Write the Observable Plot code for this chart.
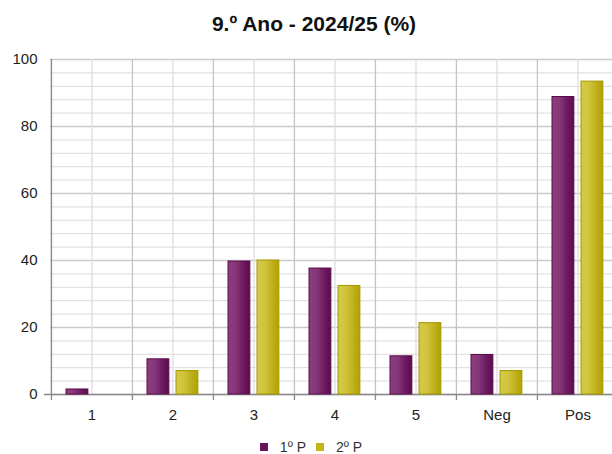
<!DOCTYPE html>
<html><head><meta charset="utf-8">
<script src="https://cdn.jsdelivr.net/npm/d3@7"></script>
<script src="https://cdn.jsdelivr.net/npm/@observablehq/plot@0.6"></script>
<style>
body{margin:0;background:#fff;font-family:"Liberation Sans",Arial,sans-serif;}
#title{height:46px;line-height:48px;text-align:center;font-weight:bold;font-size:21px;color:#111;padding-left:16px;}
#chart svg{display:block;overflow:hidden;}
#legend{display:flex;justify-content:center;align-items:center;height:34px;font-size:14px;color:#333;padding-left:10px;}
#legend .sw{width:8px;height:8px;display:inline-block;margin-right:12px;}
#legend .it{display:flex;align-items:center;margin:0 5px;}
</style></head><body>
<div id="title">9.º Ano - 2024/25 (%)</div>
<div id="chart"></div>
<div id="legend"></div>
<script>
const categories = ["1","2","3","4","5","Neg","Pos"];
const series = ["1º P","2º P"];
const values1 = [1.5, 10.5, 39.7, 37.6, 11.4, 11.8, 88.8];
const values2 = [0, 7.0, 40.0, 32.4, 21.3, 7.0, 93.4];
const yTicks = [0, 20, 40, 60, 80, 100];
const minorTicks = d3.range(0, 101, 4).filter(v => v % 20 !== 0);
const swatchColors = ["#6b145e", "#c4b41e"];

const data1 = categories.map((c, i) => ({cat: c, value: values1[i]}));
const data2 = categories.map((c, i) => ({cat: c, value: values2[i]}));

const W = 612, H = 384, left = 50, right = 618;
const bw = (right - left) / categories.length;
const barW = 22;

const svg = Plot.plot({
  width: W, height: H,
  marginTop: 13, marginBottom: 36, marginLeft: left, marginRight: 0,
  style: {fontFamily: '"Liberation Sans", Arial, sans-serif', fontSize: "15px", color: "#333", background: "#fff"},
  x: {type: "band", domain: categories, range: [left, right], padding: 0, axis: null, label: null},
  y: {domain: [0, 100], axis: null, label: null},
  marks: [
    Plot.ruleY(minorTicks, {stroke: "#e2e2e2", strokeWidth: 1.3}),
    Plot.ruleY(yTicks, {stroke: "#cacaca", strokeWidth: 1.3}),
    Plot.gridX(categories, {stroke: "#dedede", strokeOpacity: 1, strokeWidth: 1.3}),
    Plot.ruleX(categories, {x: d => d, dx: -bw / 2, stroke: "#c4c4c4", strokeWidth: 1.3}),
    Plot.ruleX(categories, {x: d => d, dx: -bw / 2, y1: 0, y2: 0, insetBottom: -6, stroke: "#8a8a8a", strokeWidth: 1.3}),
    Plot.ruleX([categories[0]], {x: d => d, dx: -bw / 2, stroke: "#8a8a8a", strokeWidth: 1.3}),
    Plot.ruleY([0], {stroke: "#8a8a8a", strokeWidth: 1.3, insetLeft: -6}),
    Plot.axisY({ticks: yTicks, tickSize: 0, tickPadding: 13, fontSize: 15, fill: "#222", label: null}),
    Plot.axisX({tickSize: 0, tickPadding: 15, fontSize: 15, fill: "#222", label: null}),
    Plot.barY(data1, {x: "cat", y: "value", filter: d => d.value > 0,
      insetLeft: 15, insetRight: bw - 15 - barW,
      fill: "url(#gradP)", stroke: "#5a0a4c", strokeWidth: 1}),
    Plot.barY(data2, {x: "cat", y: "value", filter: d => d.value > 0,
      insetLeft: 44, insetRight: bw - 44 - barW,
      fill: "url(#gradY)", stroke: "#a69800", strokeWidth: 1})
  ]
});

const defs = d3.select(svg).insert("defs", ":first-child");
function grad(id, stops) {
  const g = defs.append("linearGradient").attr("id", id).attr("x1", "0").attr("x2", "1").attr("y1", "0").attr("y2", "0");
  stops.forEach(([o, c]) => g.append("stop").attr("offset", o).attr("stop-color", c));
}
grad("gradP", [[0, "#8a3f7e"], [0.35, "#86377a"], [0.7, "#6d1a60"], [1, "#5c0a4e"]]);
grad("gradY", [[0, "#d4c94a"], [0.35, "#d0c43c"], [0.7, "#bfb01c"], [1, "#b0a200"]]);

document.getElementById("chart").appendChild(svg);

const legend = document.getElementById("legend");
series.forEach((s, i) => {
  const it = document.createElement("span");
  it.className = "it";
  const sw = document.createElement("span");
  sw.className = "sw";
  sw.style.background = swatchColors[i];
  it.appendChild(sw);
  it.appendChild(document.createTextNode(s));
  legend.appendChild(it);
});
</script>
</body></html>
